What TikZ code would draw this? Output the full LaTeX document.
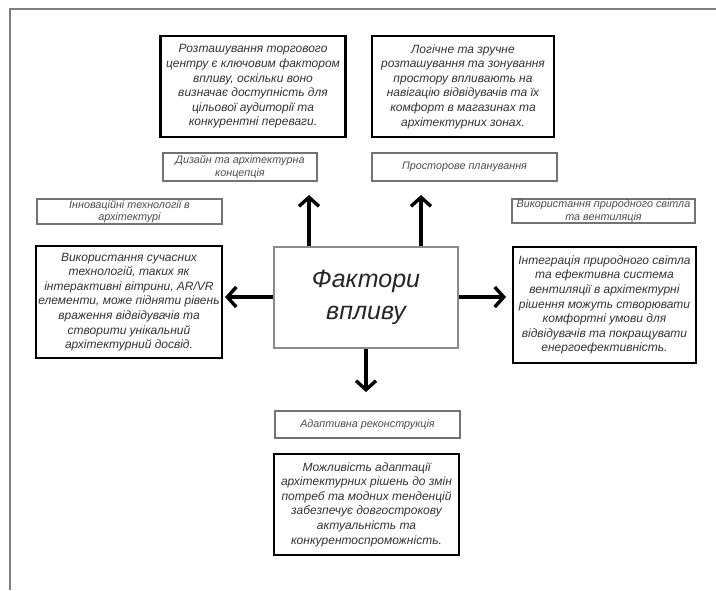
\documentclass[tikz,border=0pt]{standalone}
\usepackage{fontspec}
\setmainfont{Liberation Sans}
\usetikzlibrary{arrows.meta}

\begin{document}
\begin{tikzpicture}[x=1pt,y=-1pt]
\tikzset{
  textbox/.style={rectangle,draw=black,line width=2.4pt,align=center,inner sep=1pt,
    font=\fontsize{12}{14.6}\selectfont\itshape,text=black!80},
  labelbox/.style={rectangle,draw=black!55,line width=1.8pt,align=center,inner sep=1pt,
    font=\fontsize{10.8}{12.5}\selectfont\itshape,text=black!70},
  mainbox/.style={rectangle,draw=black!45,line width=1.6pt,align=center,
    font=\fontsize{25}{32}\selectfont\itshape,text=black!85},
  pointer/.style={draw=black,line width=3.4pt,-{Straight Barb[length=9pt,width=20pt,line width=3.4pt]}}
}
\useasboundingbox (0,0) rectangle (716,590);
% page edge
\draw[black!50,line width=1.6pt] (716,9) -- (10,9) -- (10,590);
\node[mainbox,minimum width=184pt,minimum height=101pt] (n_main) at (366,297.5) {Фактори\\впливу};
\node[textbox,minimum width=185pt,minimum height=101pt] (n_txtDesign) at (253,86.5)
  {Розташування торгового\\центру є ключовим фактором\\впливу, оскільки воно\\визначає доступність для\\цільової аудиторії та\\конкурентні переваги.};
\node[textbox,minimum width=182pt,minimum height=101pt] (n_txtPlan) at (463,86.5)
  {Логічне та зручне\\розташування та зонування\\простору впливають на\\навігацію відвідувачів та їх\\комфорт в магазинах та\\архітектурних зонах.};
\node[labelbox,minimum width=154pt,minimum height=28pt] (n_lblDesign) at (240,167) {Дизайн та архітектурна\\концепція};
\node[labelbox,minimum width=185pt,minimum height=28pt] (n_lblPlan) at (464.5,167) {Просторове планування};
\node[labelbox,minimum width=185pt,minimum height=23pt] (n_lblInnov) at (129.5,211.5) {Інноваційні технології в\\архітектурі};
\node[textbox,minimum width=186pt,minimum height=112pt] (n_txtInnov) at (129,302)
  {Використання сучасних\\технологій, таких як\\інтерактивні вітрини, AR/VR\\елементи, може підняти рівень\\враження відвідувачів та\\створити унікальний\\архітектурний досвід.};
\node[labelbox,minimum width=183pt,minimum height=24pt] (n_lblLight) at (603.5,211) {Використання природного світла\\та вентиляція};
\node[textbox,minimum width=183pt,minimum height=116pt] (n_txtLight) at (604.5,305)
  {Інтеграція природного світла\\та ефективна система\\вентиляції в архітектурні\\рішення можуть створювати\\комфортні умови для\\відвідувачів та покращувати\\енергоефективність.};
\node[labelbox,minimum width=185pt,minimum height=27pt] (n_lblAdapt) at (367.5,424.5) {Адаптивна реконструкція};
\node[textbox,minimum width=185pt,minimum height=101pt] (n_txtAdapt) at (366.5,504.5)
  {Можливість адаптації\\архітектурних рішень до змін\\потреб та модних тенденцій\\забезпечує довгострокову\\актуальність та\\конкурентоспроможність.};
% arrow tips
\coordinate (c_upL) at (309,195);
\coordinate (c_upR) at (421,195);
\coordinate (c_left) at (225,297);
\coordinate (c_right) at (506,297);
\coordinate (c_down) at (366,392);
\draw[pointer] (n_main.north -| c_upL) -- (c_upL);
\draw[pointer] (n_main.north -| c_upR) -- (c_upR);
\draw[pointer] (n_main.west |- c_left) -- (c_left);
\draw[pointer] (n_main.east |- c_right) -- (c_right);
\draw[pointer] (n_main.south -| c_down) -- (c_down);
\end{tikzpicture}
\end{document}
